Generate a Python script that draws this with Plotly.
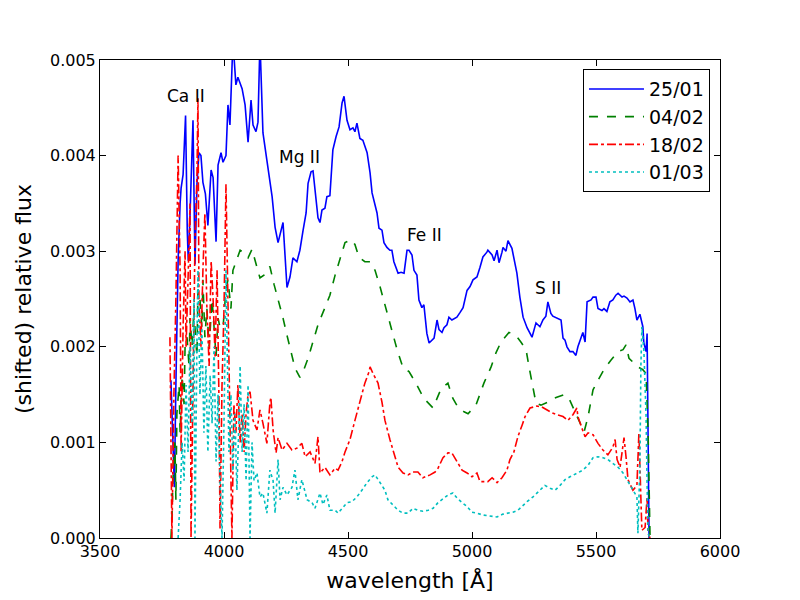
import plotly.graph_objects as go

# 25/01 spectrum
wl_2501 = [3786, 3794, 3800, 3806, 3815, 3823, 3827, 3835, 3845, 3852, 3856, 3862, 3875, 3883,
           3891, 3899, 3907, 3915, 3925, 3935, 3948, 3956, 3968, 3976, 3988, 3996, 4008, 4016,
           4024, 4036, 4048, 4056, 4073, 4085, 4097, 4109, 4117, 4129, 4137, 4145, 4157, 4173,
           4185, 4194, 4206, 4218, 4238, 4246, 4254, 4266, 4278, 4294, 4306, 4319, 4331, 4339,
           4351, 4359, 4367, 4379, 4387, 4395, 4407, 4415, 4427, 4439, 4452, 4464, 4476, 4484,
           4496, 4508, 4520, 4528, 4536, 4548, 4560, 4577, 4589, 4597, 4617, 4625, 4637, 4645,
           4657, 4669, 4677, 4685, 4702, 4714, 4726, 4738, 4746, 4758, 4766, 4778, 4786, 4798,
           4806, 4818, 4827, 4839, 4847, 4859, 4867, 4879, 4887, 4899, 4907, 4919, 4931, 4939,
           4952, 4964, 4980, 4992, 5004, 5020, 5032, 5044, 5060, 5064, 5081, 5089, 5101, 5109,
           5121, 5125, 5137, 5145, 5161, 5169, 5181, 5193, 5206, 5222, 5234, 5242, 5258, 5274,
           5286, 5298, 5306, 5318, 5326, 5343, 5359, 5367, 5375, 5383, 5395, 5407, 5419, 5427,
           5447, 5456, 5464, 5480, 5488, 5500, 5508, 5524, 5532, 5544, 5556, 5568, 5580, 5589,
           5605, 5613, 5625, 5637, 5649, 5657, 5665, 5677, 5689, 5693, 5702, 5706, 5710, 5714]
fx_2501 = [0.00165, 0.0009, 0.00053, 0.0016, 0.0029, 0.0035, 0.00366, 0.0038, 0.00442, 0.0032,
           0.0029, 0.0033, 0.00437, 0.00286, 0.0037, 0.00403, 0.004, 0.00372, 0.0036, 0.00327,
           0.00385, 0.00377, 0.0031, 0.0039, 0.00403, 0.00393, 0.004, 0.00453, 0.00432, 0.0052,
           0.00474, 0.00482, 0.0047, 0.00453, 0.00414, 0.00458, 0.00432, 0.00425, 0.00435, 0.0052,
           0.00424, 0.00395, 0.00374, 0.00357, 0.00325, 0.00309, 0.0033, 0.00294, 0.00262, 0.00273,
           0.00293, 0.00289, 0.00301, 0.00322, 0.0034, 0.00371, 0.00383, 0.00384, 0.00364, 0.00335,
           0.0033, 0.00343, 0.00345, 0.00357, 0.00358, 0.00406, 0.0042, 0.0043, 0.00455, 0.00462,
           0.00437, 0.00427, 0.00429, 0.00425, 0.00434, 0.00418, 0.00416, 0.00403, 0.00382, 0.00361,
           0.0034, 0.00324, 0.00322, 0.00309, 0.00304, 0.00301, 0.00301, 0.00289, 0.00277, 0.00278,
           0.00277, 0.00301, 0.00301, 0.00296, 0.0028, 0.00275, 0.00249, 0.00241, 0.00244, 0.00214,
           0.00204, 0.00207, 0.00209, 0.00228, 0.00218, 0.00215, 0.0022, 0.00223, 0.00231, 0.00228,
           0.0023, 0.00231, 0.00236, 0.00241, 0.00259, 0.00263, 0.0027, 0.00273, 0.00283, 0.00294,
           0.00299, 0.00301, 0.00296, 0.0029, 0.00301, 0.00288, 0.00299, 0.00304, 0.003, 0.00311,
           0.00303, 0.00291, 0.00277, 0.00252, 0.00231, 0.0022, 0.00214, 0.0021, 0.00225, 0.00221,
           0.00228, 0.00232, 0.00247, 0.00235, 0.00232, 0.0023, 0.00228, 0.00209, 0.00207, 0.002,
           0.00195, 0.00195, 0.00191, 0.002, 0.00215, 0.00205, 0.00247, 0.00249, 0.00252, 0.00252,
           0.0024, 0.00238, 0.0024, 0.00237, 0.00247, 0.00249, 0.00254, 0.00256, 0.00252, 0.00253,
           0.00251, 0.00247, 0.00249, 0.0024, 0.00228, 0.00234, 0.00221, 0.00204, 0.00195, 0.00214,
           0.00123, 0.0]

# 04/02 spectrum
wl_0402 = [3786, 3790, 3794, 3802, 3806, 3810, 3819, 3823, 3831, 3839, 3843, 3851, 3859, 3863,
           3871, 3879, 3883, 3891, 3895, 3903, 3911, 3915, 3923, 3931, 3940, 3952, 3960, 3968,
           3976, 3984, 3996, 4008, 4016, 4028, 4036, 4052, 4065, 4077, 4097, 4113, 4129, 4145,
           4161, 4185, 4202, 4222, 4238, 4254, 4270, 4286, 4306, 4319, 4339, 4359, 4379, 4407,
           4427, 4448, 4468, 4488, 4512, 4528, 4544, 4568, 4589, 4609, 4629, 4649, 4669, 4698,
           4722, 4746, 4774, 4806, 4843, 4863, 4875, 4903, 4923, 4943, 4968, 4984, 5016, 5048,
           5077, 5097, 5117, 5149, 5177, 5197, 5218, 5230, 5246, 5258, 5278, 5306, 5339, 5371,
           5391, 5411, 5431, 5452, 5468, 5488, 5508, 5532, 5560, 5589, 5609, 5621, 5633, 5649,
           5669, 5689, 5702, 5710, 5718]
fx_0402 = [0.0, 0.0002, 0.0006, 0.001, 0.0004, 0.0013, 0.0016, 0.0011, 0.0017, 0.0014, 0.002,
           0.0021, 0.0018, 0.0023, 0.002, 0.0024, 0.0022, 0.0019, 0.0026, 0.0025, 0.0022, 0.0027,
           0.0021, 0.0024, 0.002, 0.0025, 0.0022, 0.0019, 0.0023, 0.0022, 0.0022, 0.0026, 0.0027,
           0.0024, 0.0028, 0.00293, 0.00301, 0.00299, 0.00293, 0.00302, 0.00286, 0.00272, 0.00275,
           0.00284, 0.00265, 0.00247, 0.0023, 0.00212, 0.00195, 0.00178, 0.00168, 0.00174, 0.00188,
           0.00205, 0.00223, 0.00241, 0.00254, 0.00275, 0.00293, 0.00309, 0.00312, 0.00307, 0.00294,
           0.00289, 0.00289, 0.0028, 0.00263, 0.00244, 0.00223, 0.00197, 0.00178, 0.00174, 0.00162,
           0.00146, 0.00136, 0.00148, 0.00156, 0.00162, 0.00146, 0.00137, 0.00132, 0.0013, 0.00139,
           0.00162, 0.00179, 0.00194, 0.00205, 0.00215, 0.00212, 0.00205, 0.00197, 0.00179, 0.00158,
           0.00141, 0.00139, 0.00142, 0.00147, 0.0015, 0.00146, 0.00134, 0.00123, 0.00111, 0.00127,
           0.00155, 0.00165, 0.00176, 0.00186, 0.00195, 0.00197, 0.00202, 0.00188, 0.00184, 0.00179,
           0.00176, 0.00172, 0.0011, 0.0]

# 18/02 spectrum
wl_1802 = [3782, 3786, 3790, 3798, 3806, 3815, 3823, 3827, 3835, 3843, 3847, 3855, 3863, 3867,
           3875, 3883, 3891, 3895, 3899, 3907, 3915, 3923, 3931, 3940, 3948, 3956, 3964, 3972,
           3980, 3984, 3992, 4000, 4008, 4012, 4020, 4028, 4032, 4040, 4048, 4056, 4065, 4073,
           4081, 4089, 4097, 4105, 4117, 4133, 4145, 4157, 4173, 4185, 4189, 4198, 4210, 4218,
           4234, 4254, 4274, 4294, 4314, 4327, 4347, 4367, 4379, 4387, 4407, 4427, 4448, 4460,
           4476, 4488, 4508, 4528, 4548, 4568, 4585, 4589, 4601, 4621, 4637, 4649, 4669, 4690,
           4702, 4722, 4742, 4762, 4782, 4802, 4831, 4851, 4863, 4883, 4903, 4919, 4939, 4960,
           4980, 5000, 5020, 5032, 5064, 5081, 5101, 5121, 5141, 5153, 5169, 5185, 5202, 5214,
           5234, 5262, 5282, 5302, 5322, 5343, 5367, 5387, 5407, 5423, 5427, 5443, 5456, 5468,
           5488, 5508, 5528, 5548, 5568, 5577, 5585, 5597, 5613, 5621, 5629, 5649, 5665, 5673,
           5677, 5685, 5698, 5706, 5710, 5718]
fx_1802 = [0.0021, 0.0008, 0.0, 0.0015, 0.0025, 0.004, 0.0028, 0.0009, 0.0022, 0.003, 0.002,
           0.0027, 0.0035, 0.0, 0.0019, 0.0031, 0.0038, 0.0046, 0.0025, 0.002, 0.0028, 0.0034,
           0.0024, 0.0018, 0.0029, 0.0025, 0.0019, 0.0028, 0.0014, 0.0001, 0.0016, 0.0024, 0.0037,
           0.003, 0.0018, 0.0005, 0.0, 0.0014, 0.0011, 0.0016, 0.001, 0.0013, 0.0009, 0.0013,
           0.0015, 0.00153, 0.00123, 0.00113, 0.00134, 0.0012, 0.00099, 0.00141, 0.00147, 0.00113,
           0.00089, 0.00105, 0.00092, 0.00099, 0.00092, 0.00094, 0.00099, 0.00085, 0.0009, 0.00078,
           0.00106, 0.00068, 0.00074, 0.00066, 0.00073, 0.00071, 0.0008, 0.0009, 0.00103, 0.00123,
           0.00144, 0.00162, 0.00174, 0.00179, 0.00172, 0.00162, 0.00142, 0.00123, 0.00103, 0.00085,
           0.00074, 0.00068, 0.00066, 0.00069, 0.00069, 0.00063, 0.00066, 0.00069, 0.00073, 0.00084,
           0.00089, 0.00089, 0.0008, 0.00071, 0.00068, 0.00064, 0.00068, 0.00059, 0.00059, 0.00063,
           0.00058, 0.00063, 0.00071, 0.00082, 0.0009, 0.00106, 0.00118, 0.00127, 0.00136, 0.00138,
           0.00137, 0.00134, 0.00131, 0.00129, 0.00127, 0.00123, 0.00129, 0.00136, 0.00127, 0.00115,
           0.00106, 0.0011, 0.00108, 0.00099, 0.00092, 0.00087, 0.00095, 0.00103, 0.00082, 0.00074,
           0.00105, 0.00085, 0.00061, 0.0005, 0.00055, 0.0011, 0.00075, 0.00008, 0.00011, 0.00043,
           0.00005, 0.0]

# 01/03 spectrum
wl_0103 = [3815, 3823, 3831, 3839, 3847, 3855, 3863, 3871, 3879, 3883, 3891, 3895, 3903, 3911,
           3919, 3927, 3935, 3944, 3952, 3960, 3968, 3976, 3984, 3992, 4000, 4008, 4012, 4020,
           4028, 4036, 4044, 4052, 4060, 4065, 4073, 4081, 4089, 4097, 4105, 4113, 4121, 4133,
           4145, 4157, 4173, 4185, 4198, 4206, 4218, 4226, 4238, 4254, 4274, 4286, 4298, 4314,
           4335, 4355, 4367, 4387, 4399, 4415, 4427, 4448, 4460, 4480, 4496, 4516, 4536, 4556,
           4577, 4597, 4609, 4629, 4649, 4661, 4681, 4702, 4722, 4742, 4762, 4782, 4802, 4823,
           4843, 4863, 4883, 4903, 4923, 4939, 4960, 4980, 5000, 5020, 5044, 5073, 5101, 5125,
           5145, 5165, 5185, 5193, 5222, 5246, 5274, 5294, 5315, 5335, 5355, 5375, 5395, 5423,
           5447, 5468, 5488, 5508, 5528, 5548, 5568, 5589, 5609, 5629, 5649, 5665, 5669, 5677,
           5681, 5685, 5693, 5702, 5706, 5710, 5718]
fx_0103 = [0.0, 0.0004, 0.001, 0.0006, 0.0016, 0.0009, 0.002, 0.0012, 0.0025, 0.0, 0.0021,
           0.0028, 0.0015, 0.0022, 0.0011, 0.0018, 0.0009, 0.0017, 0.0012, 0.002, 0.0008, 0.0015,
           0.0006, 0.0, 0.0012, 0.0028, 0.0021, 0.0009, 0.0015, 0.0007, 0.0013, 0.0005, 0.0012,
           0.0018, 0.0009, 0.0014, 0.0006, 0.0016, 0.0, 0.001, 0.0006, 0.00068, 0.00043, 0.00047,
           0.00026, 0.00071, 0.0006, 0.00026, 0.00082, 0.0004, 0.00053, 0.00045, 0.00053, 0.00071,
           0.0004, 0.00061, 0.0004, 0.00037, 0.00031, 0.00047, 0.00035, 0.00045, 0.00029, 0.00029,
           0.00026, 0.00032, 0.00037, 0.00038, 0.00043, 0.0005, 0.00058, 0.00064, 0.00066, 0.00058,
           0.0005, 0.0004, 0.00035, 0.00029, 0.00026, 0.00026, 0.00031, 0.00029, 0.00028, 0.00029,
           0.00031, 0.00037, 0.00041, 0.00045, 0.00047, 0.00042, 0.00037, 0.00033, 0.00027, 0.00026,
           0.00024, 0.00023, 0.00022, 0.00025, 0.00026, 0.00027, 0.00029, 0.00031, 0.00038, 0.00043,
           0.0005, 0.00055, 0.00052, 0.0005, 0.00055, 0.00061, 0.00064, 0.00068, 0.00071, 0.00076,
           0.00084, 0.00085, 0.00084, 0.00082, 0.00078, 0.00074, 0.00068, 0.00059, 0.0005, 0.00043,
           0.00005, 0.00075, 0.0018, 0.00221, 0.00197, 0.00127, 0.00057, 0.00005, 0.0]

line_labels = ['Ca II', 'Mg II', 'Fe II', 'S II']
label_wl = [3847, 4306, 4810, 5306]
label_fx = [0.00462, 0.00399, 0.00317, 0.00262]

font = 'DejaVu Sans, Arial, sans-serif'

fig = go.Figure()

series = [
    (wl_2501, fx_2501, '25/01', '#0000ff', 'solid'),
    (wl_0402, fx_0402, '04/02', '#008000', 'dash'),
    (wl_1802, fx_1802, '18/02', '#ff0000', 'dashdot'),
    (wl_0103, fx_0103, '01/03', '#00bfbf', 'dot'),
]
for wl, fx, name, color, dash in series:
    fig.add_trace(go.Scatter(x=wl, y=fx, mode='lines', name=name, legendgroup=name,
                             line=dict(color=color, width=1.6, dash=dash)))

for txt, x, y in zip(line_labels, label_wl, label_fx):
    fig.add_annotation(x=x, y=y, text=txt, showarrow=False,
                       font=dict(size=17, color='black', family=font))

axis_common = dict(showline=True, linecolor='black', linewidth=1, mirror='ticks',
                   ticks='inside', ticklen=6, tickcolor='black', showgrid=False,
                   zeroline=False, tickfont=dict(size=16, color='black', family=font))

# the page body adds an 8px offset, so margins are shifted to keep the axes box in place
fig.update_layout(
    width=800, height=600,
    margin=dict(l=92, r=88, t=52, b=70),
    paper_bgcolor='white', plot_bgcolor='white',
    font=dict(family=font, color='black'),
    xaxis=dict(range=[3500, 6000], dtick=500, tick0=3500, ticklabelstandoff=-1,
               title=dict(text='wavelength [Å]', font=dict(size=22), standoff=12),
               **axis_common),
    yaxis=dict(range=[0, 0.005], dtick=0.001, tick0=0, tickformat='.3f',
               title=dict(text='(shifted) relative flux', font=dict(size=22), standoff=12),
               **axis_common),
    legend=dict(x=0.779, y=0.981, xanchor='left', yanchor='top',
                bordercolor='black', borderwidth=1, bgcolor='white',
                font=dict(size=19, color='black', family=font),
                itemwidth=55, traceorder='grouped', tracegroupgap=0),
    showlegend=True,
)

fig.write_html('out.html')
